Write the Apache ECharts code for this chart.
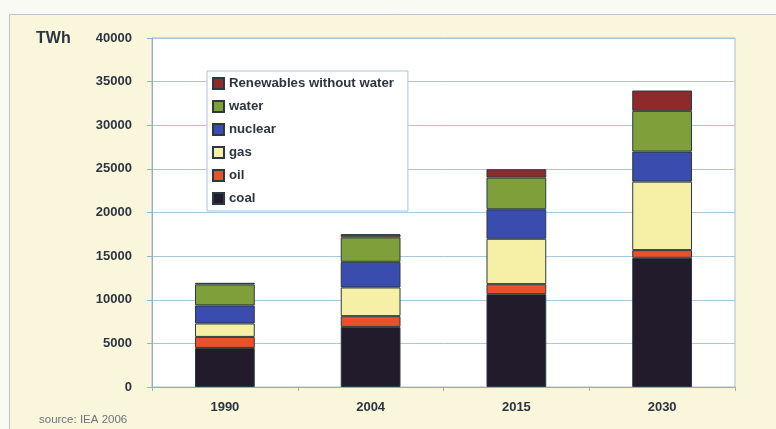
<!DOCTYPE html>
<html>
<head>
<meta charset="utf-8">
<script src="https://cdn.jsdelivr.net/npm/echarts@6/dist/echarts.min.js"></script>
<style>
  html, body { margin: 0; padding: 0; background: #fafaf4; }
  #chart { width: 776px; height: 429px; }
</style>
</head>
<body>
<div id="chart"></div>
<script>
// World electricity generation by source (TWh)
const categories = ['1990', '2004', '2015', '2030'];
const coal       = [4480, 6890, 10640, 14810];
const oil        = [1260, 1230, 1150, 880];
const gas        = [1540, 3290, 5200, 7850];
const nuclear    = [2070, 2940, 3380, 3440];
const water      = [2410, 2800, 3630, 4670];
const renewables = [180, 380, 960, 2330];

const yTicks = { min: 0, max: 40000, interval: 5000 };

const FONT = '"Liberation Sans", Arial, Helvetica, sans-serif';
const TEXT = '#2c3440';

const layers = [
  { name: 'coal', data: coal, color: '#221b2b' },
  { name: 'oil', data: oil, color: '#e9512c' },
  { name: 'gas', data: gas, color: '#f5f0a6' },
  { name: 'nuclear', data: nuclear, color: '#3a4cae' },
  { name: 'water', data: water, color: '#7f9f3a' },
  { name: 'Renewables without water', data: renewables, color: '#8e2a2c' }
];

const chart = echarts.init(document.getElementById('chart'), null, { renderer: 'canvas' });

chart.setOption({
  animation: false,
  backgroundColor: '#fafaf4',
  textStyle: { fontFamily: FONT },
  graphic: [
    {
      type: 'rect', z: -10, silent: true,
      shape: { x: 9.5, y: 14.5, width: 800, height: 500 },
      style: { fill: '#faf6dc', stroke: '#b9c6cc', lineWidth: 1 }
    },
    {
      type: 'text', left: 36, top: 31, silent: true,
      style: { text: 'TWh', fill: TEXT, font: 'bold 16px ' + FONT }
    },
    {
      type: 'text', left: 39, top: 414, silent: true,
      style: { text: 'source: IEA 2006', fill: '#6b7280', font: '11.5px ' + FONT }
    }
  ],
  grid: {
    left: 152, right: 41, top: 38, bottom: 42,
    show: true, backgroundColor: '#ffffff',
    borderColor: '#a9bccb', borderWidth: 1
  },
  legend: {
    orient: 'vertical',
    left: 207, top: 71,
    padding: [6, 14, 6, 5],
    backgroundColor: '#ffffff',
    borderColor: '#b3c3d0', borderWidth: 1,
    icon: 'rect',
    itemWidth: 11, itemHeight: 11, itemGap: 10,
    selectedMode: false,
    data: ['Renewables without water', 'water', 'nuclear', 'gas', 'oil', 'coal'],
    textStyle: { color: TEXT, fontWeight: 'bold', fontSize: 13.2, fontFamily: FONT }
  },
  xAxis: {
    type: 'category',
    data: categories,
    axisLine: { lineStyle: { color: '#8fb0c6', width: 1 } },
    axisTick: { show: true, length: 4, lineStyle: { color: '#8fb0c6' } },
    axisLabel: { color: TEXT, fontWeight: 'bold', fontSize: 13, margin: 14, fontFamily: FONT }
  },
  yAxis: {
    type: 'value',
    min: yTicks.min, max: yTicks.max, interval: yTicks.interval,
    axisLine: { show: true, lineStyle: { color: '#8fb0c6', width: 1 } },
    axisTick: { show: true, length: 5, lineStyle: { color: '#8fb0c6' } },
    axisLabel: { color: TEXT, fontWeight: 'bold', fontSize: 13, margin: 20, fontFamily: FONT,
                 formatter: v => String(v) },
    splitLine: { show: true, lineStyle: { color: '#a8c8de', width: 1 } }
  },
  series: layers.map(l => ({
    name: l.name,
    type: 'bar',
    stack: 'total',
    barWidth: '41%',
    data: l.data,
    itemStyle: { color: l.color, borderColor: '#2a3a40', borderWidth: 1 },
    emphasis: { disabled: true }
  }))
});
</script>
</body>
</html>
